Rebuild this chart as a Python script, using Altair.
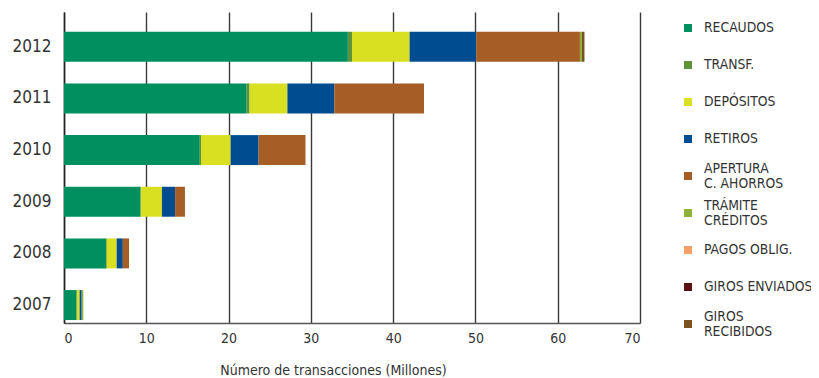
import altair as alt
import pandas as pd

years = ["2012", "2011", "2010", "2009", "2008", "2007"]
categories = ["RECAUDOS", "TRANSF.", "DEPÓSITOS", "RETIROS", "APERTURA|C. AHORROS",
              "TRÁMITE|CRÉDITOS", "PAGOS OBLIG.", "GIROS ENVIADOS", "GIROS|RECIBIDOS"]
colors = ["#00905F", "#5E9439", "#D9E021", "#004C91", "#A65E26",
          "#8FB03A", "#F4A06A", "#5C0F14", "#7A5024"]

recaudos = [34.5, 22.2, 16.5, 9.3, 5.1, 1.55]
transf = [0.5, 0.35, 0.15, 0.05, 0.1, 0.0]
depositos = [7.0, 4.6, 3.6, 2.55, 1.2, 0.35]
retiros = [8.1, 5.7, 3.4, 1.6, 0.75, 0.25]
apertura = [12.6, 10.9, 5.7, 1.2, 0.75, 0.0]
tramite = [0.25, 0.0, 0.0, 0.0, 0.0, 0.2]
pagos = [0.0, 0.0, 0.0, 0.0, 0.0, 0.0]
giros_env = [0.0, 0.0, 0.0, 0.0, 0.0, 0.0]
giros_rec = [0.3, 0.0, 0.0, 0.0, 0.0, 0.0]

series = [recaudos, transf, depositos, retiros, apertura, tramite, pagos, giros_env, giros_rec]
rows = []
for ci, (cat, vals) in enumerate(zip(categories, series)):
    for y, v in zip(years, vals):
        rows.append({"year": y, "cat": cat, "order": ci, "value": v})
df = pd.DataFrame(rows)
legend_df = pd.DataFrame({"cat": categories})

FONT = "Liberation Sans Narrow, DejaVu Sans Condensed, Liberation Sans, sans-serif"
color_scale = alt.Scale(domain=categories, range=colors)
leg_y = alt.Y("cat:N", scale=alt.Scale(type="point", domain=categories, range=[16, 312],
                                       padding=0),
              axis=None)

bars = alt.Chart(df).mark_bar().encode(
    x=alt.X("value:Q", stack="zero",
            scale=alt.Scale(domain=[0, 70], nice=False),
            axis=alt.Axis(values=[0, 10, 20, 30, 40, 50, 60, 70],
                          title="Número de transacciones (Millones)",
                          titleFont=FONT, titleFontSize=14, titleFontWeight="normal",
                          titleColor="#333333", titlePadding=18, titleX=269,
                          labelFont=FONT, labelFontSize=14, labelColor="#333333",
                          labelPadding=8,
                          grid=True, gridColor="#3a3a3a", gridWidth=1.4,
                          domain=True, domainColor="#555555", domainWidth=1.5,
                          ticks=False)),
    y=alt.Y("year:N", sort=years,
            scale=alt.Scale(paddingInner=0.42, paddingOuter=0.22, align=0.87),
            axis=alt.Axis(title=None, labelFont=FONT, labelFontSize=17,
                          labelColor="#333333", labelPadding=13, ticks=False,
                          domain=True, domainColor="#222222", domainWidth=1.5)),
    color=alt.Color("cat:N", scale=color_scale, legend=None),
    order=alt.Order("order:Q"),
)

squares = alt.Chart(legend_df).mark_square(size=64, opacity=1).encode(
    x=alt.value(624),
    y=leg_y,
    color=alt.Color("cat:N", scale=color_scale, legend=None),
)

text_single = alt.Chart(legend_df).transform_filter(
    "indexof(datum.cat, '|') < 0"
).mark_text(align="left", baseline="middle", font=FONT, fontSize=13.8,
            color="#333333").encode(
    x=alt.value(640), y=leg_y, text="cat:N")

text_double = alt.Chart(legend_df).transform_filter(
    "indexof(datum.cat, '|') >= 0"
).mark_text(align="left", baseline="middle", font=FONT, fontSize=13.8,
            color="#333333", lineBreak="|", lineHeight=15, dy=-7.5).encode(
    x=alt.value(640), y=leg_y, text="cat:N")

chart = alt.layer(bars, squares, text_single, text_double).resolve_scale(
    y="independent"
).properties(
    width=576, height=311,
    autosize=alt.AutoSizeParams(type="none"),
    padding={"left": 56, "top": 4, "right": 171, "bottom": 58},
).configure_view(stroke=None).configure_axis(gridOpacity=1)

chart.save("out.html", embed_options={"renderer": "svg", "actions": False})
